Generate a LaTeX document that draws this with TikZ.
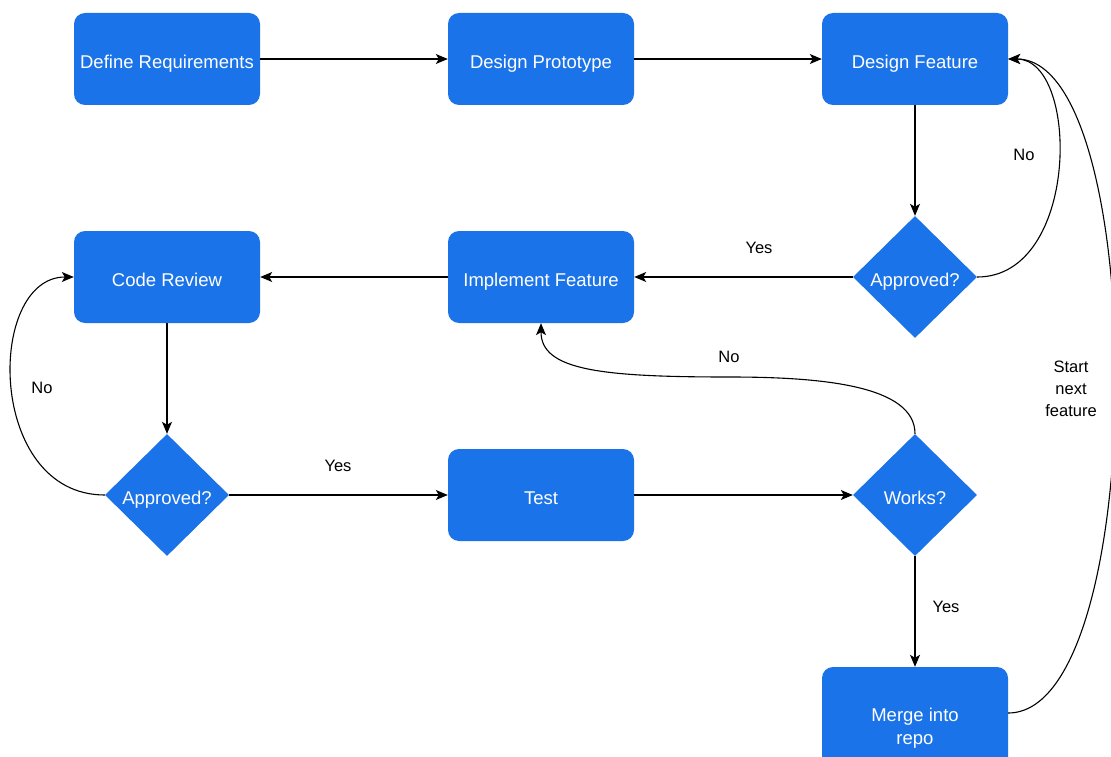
\documentclass[tikz,border=0pt]{standalone}
\usepackage{fontspec}
\setmainfont{Liberation Sans}
\usetikzlibrary{shapes.geometric,arrows.meta}
\definecolor{flowblue}{RGB}{26,115,232}
\begin{document}
\begin{tikzpicture}[x=1pt,y=-1pt,
  stepbox/.style={fill=flowblue, rounded corners=11pt, minimum width=186pt,
    minimum height=92pt, inner sep=0pt, text=white,
    font=\fontsize{18.5}{22}\selectfont, align=center,
    text height=19pt, text depth=0pt},
  decision/.style={diamond, fill=flowblue, minimum width=124pt,
    minimum height=122pt, inner sep=0pt, text=white,
    font=\fontsize{18.5}{22}\selectfont, text height=18pt, text depth=0pt},
  flow/.style={draw=black, line width=1.1pt,
    -{Stealth[length=12pt,width=10pt,inset=3pt]}},
  edgelabel/.style={font=\fontsize{16.5}{22}\selectfont, align=center, inner sep=0pt}]

\useasboundingbox (0,0) rectangle (1111,757);
\clip (0,0) rectangle (1111,757);

% process steps
\node[stepbox] (define)  at (167,59)  {Define Requirements};
\node[stepbox] (proto)   at (541,59)  {Design Prototype};
\node[stepbox] (desfeat) at (915,59)  {Design Feature};
\node[stepbox] (review)  at (167,277) {Code Review};
\node[stepbox] (impl)    at (541,277) {Implement Feature};
\node[stepbox] (test)    at (541,495) {Test};
\node[stepbox, minimum height=122pt, text height=, text depth=]
      (merge) at (915,728) {Merge into\\[1pt]repo};

% decisions
\node[decision] (appr1) at (915,277) {Approved?};
\node[decision] (appr2) at (167,495) {Approved?};
\node[decision] (works) at (915,495) {Works?};

% straight connectors
\draw[flow] (define) -- (proto);
\draw[flow] (proto) -- (desfeat);
\draw[flow] (desfeat) -- (appr1);
\draw[flow] (appr1) -- (impl);
\draw[flow] (impl) -- (review);
\draw[flow] (review) -- (appr2);
\draw[flow] (appr2) -- (test);
\draw[flow] (test) -- (works);
\draw[flow] (works) -- (merge);

% loops back
\coordinate (nomid) at (729,377);
\draw[flow] (appr1.east) .. controls (1080,277) and (1080,59) .. (desfeat.east);
\draw[flow] (appr2.west) .. controls (-14,495) and (-14,277) .. (review.west);
\draw[flow] (works.north) .. controls (915,385) and (820,377) .. (nomid)
            .. controls (600,377) and (541,370) .. (impl.south);
\draw[flow] ([yshift=15pt]merge.east) .. controls (1150,713) and (1150,59) .. (desfeat.east);

% labels
\node[edgelabel] (yes1) at (759,248) {Yes};
\node[edgelabel] (no1)  at (1024,155) {No};
\node[edgelabel] (no2)  at (42,388) {No};
\node[edgelabel] (yes2) at (338,466) {Yes};
\node[edgelabel] (no3)  at (729,357) {No};
\node[edgelabel] (yes3) at (946,607) {Yes};
\node[edgelabel] (next) at (1071,389) {Start\\next\\feature};
\end{tikzpicture}
\end{document}
